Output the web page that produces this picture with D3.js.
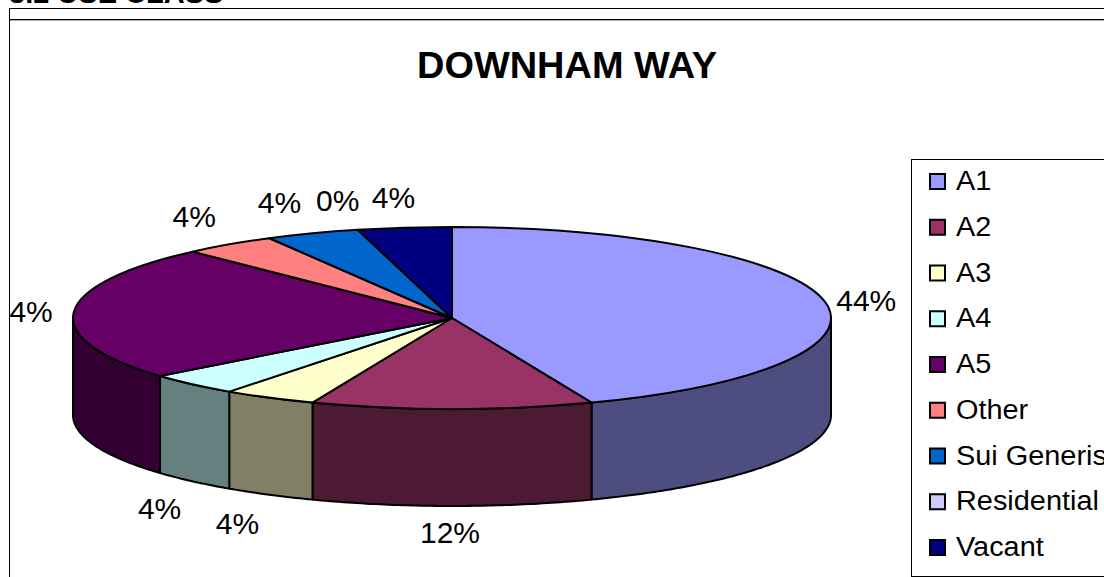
<!DOCTYPE html>
<html>
<head>
<meta charset="utf-8">
<script src="https://cdn.jsdelivr.net/npm/d3@7"></script>
<style>
  body { margin: 0; background: #fff; }
  svg { display: block; }
  text { font-family: "Liberation Sans", Arial, sans-serif; fill: #000; }
</style>
</head>
<body>
<div id="svg"></div>
<script>
// values
let categories = ["A1", "A2", "A3", "A4", "A5", "Other", "Sui Generis", "Residential", "Vacant"];
let values = [44, 12, 4, 4, 24, 4, 4, 0, 4];
let colors = ["#9999ff", "#993366", "#ffffcc", "#ccffff", "#660066", "#ff8080", "#0066cc", "#ccccff", "#000080"];

// label offset from the rim of each slice
let labelNudge = [[42, -1], [-2, 123], [-32, 125], [-33, 124], [-51, -1], [-35, -28], [-33, -31], [-20, -30], [-11, -31]];

function makeChart() {
  let w = 1104, h = 577;
  let cx = 452, cy = 318, rx = 379, ry = 91, depth = 97;

  let svg = d3.select("#svg").append("svg")
    .attr("width", w)
    .attr("height", h);

  svg.append("defs").append("clipPath").attr("id", "chartClip")
    .append("rect").attr("x", 10).attr("y", 20).attr("width", w).attr("height", h);

  // heading, mostly cut off by the top of the page
  svg.append("text")
    .attr("x", 9).attr("y", 3)
    .attr("font-size", 29).attr("font-weight", "bold")
    .text("3.2 USE CLASS");

  // frames
  svg.append("rect").attr("x", 9.5).attr("y", 8.5).attr("width", w).attr("height", h)
    .attr("fill", "none").attr("stroke", "#000");
  svg.append("line").attr("x1", 9.5).attr("x2", w).attr("y1", 19.5).attr("y2", 19.5)
    .attr("stroke", "#000");
  svg.append("line").attr("x1", 10).attr("x2", w).attr("y1", 20.5).attr("y2", 20.5)
    .attr("stroke", "#aaa");

  svg.append("text")
    .attr("x", 567).attr("y", 78)
    .attr("text-anchor", "middle")
    .attr("font-size", 36).attr("font-weight", "bold")
    .attr("textLength", 300).attr("lengthAdjust", "spacingAndGlyphs")
    .text("DOWNHAM WAY");

  let arcs = d3.pie().sort(null).value(d => d)(values);

  let px = a => cx + rx * Math.sin(a);
  let py = (a, drop) => cy - ry * Math.cos(a) + drop;
  let line = d3.line();

  // walls: only the front half of the rim shows
  let front = arcs
    .map((d, i) => ({ a0: Math.max(d.startAngle, Math.PI / 2), a1: Math.min(d.endAngle, 3 * Math.PI / 2), i }))
    .filter(d => d.a1 > d.a0);

  let wallPath = d => {
    let n = Math.ceil((d.a1 - d.a0) * 80);
    let t = d3.range(n + 1).map(k => d.a0 + (d.a1 - d.a0) * k / n);
    let top = t.map(a => [px(a), py(a, 0)]);
    let bottom = t.slice().reverse().map(a => [px(a), py(a, depth)]);
    return line(top.concat(bottom)) + "Z";
  };

  svg.append("g").selectAll("path")
    .data(front)
    .enter()
    .append("path")
    .attr("d", wallPath)
    .attr("fill", d => {
      let c = d3.rgb(colors[d.i]);
      return d3.rgb(c.r / 2, c.g / 2, c.b / 2);
    })
    .attr("stroke", "#000")
    .attr("stroke-width", 2)
    .attr("stroke-linejoin", "round");

  // top of the pie: a flat arc squashed into an ellipse
  let arc = d3.arc().innerRadius(0).outerRadius(rx);

  svg.append("g")
    .attr("transform", `translate(${cx},${cy}) scale(1,${ry / rx})`)
    .selectAll("path")
    .data(arcs.filter(d => d.value > 0))
    .enter()
    .append("path")
    .attr("d", arc)
    .attr("fill", d => colors[d.index])
    .attr("stroke", "#000")
    .attr("stroke-width", 2)
    .attr("stroke-linejoin", "round")
    .attr("vector-effect", "non-scaling-stroke");

  // data labels, the frame cuts the 24% one
  svg.append("g")
    .attr("clip-path", "url(#chartClip)")
    .selectAll("text")
    .data(arcs)
    .enter()
    .append("text")
    .attr("x", d => px((d.startAngle + d.endAngle) / 2) + labelNudge[d.index][0])
    .attr("y", d => py((d.startAngle + d.endAngle) / 2, 0) + labelNudge[d.index][1])
    .attr("dy", "0.36em")
    .attr("text-anchor", "middle")
    .attr("font-size", 30)
    .text(d => d.value + "%");

  // legend
  let legendX = 911.5, legendY = 159.5;
  let rowY = d3.scalePoint().domain(categories).range([181, 547]);

  let legend = svg.append("g");
  legend.append("rect")
    .attr("x", legendX).attr("y", legendY)
    .attr("width", 300).attr("height", 417)
    .attr("fill", "#fff").attr("stroke", "#000");

  let rows = legend.selectAll("g.row")
    .data(categories)
    .enter()
    .append("g")
    .classed("row", true)
    .attr("transform", d => `translate(0,${rowY(d)})`);

  rows.append("rect")
    .attr("x", 930).attr("y", -7)
    .attr("width", 15).attr("height", 15)
    .attr("fill", (d, i) => colors[i])
    .attr("stroke", "#000")
    .attr("stroke-width", 2);

  // the legend text is a little wider than plain Arial at this height
  rows.append("text")
    .attr("transform", "translate(956,0) scale(1.07,1)")
    .attr("dy", "0.34em")
    .attr("font-size", 27)
    .text(d => d);
}

window.onload = function() {
  makeChart();
};
</script>
</body>
</html>
